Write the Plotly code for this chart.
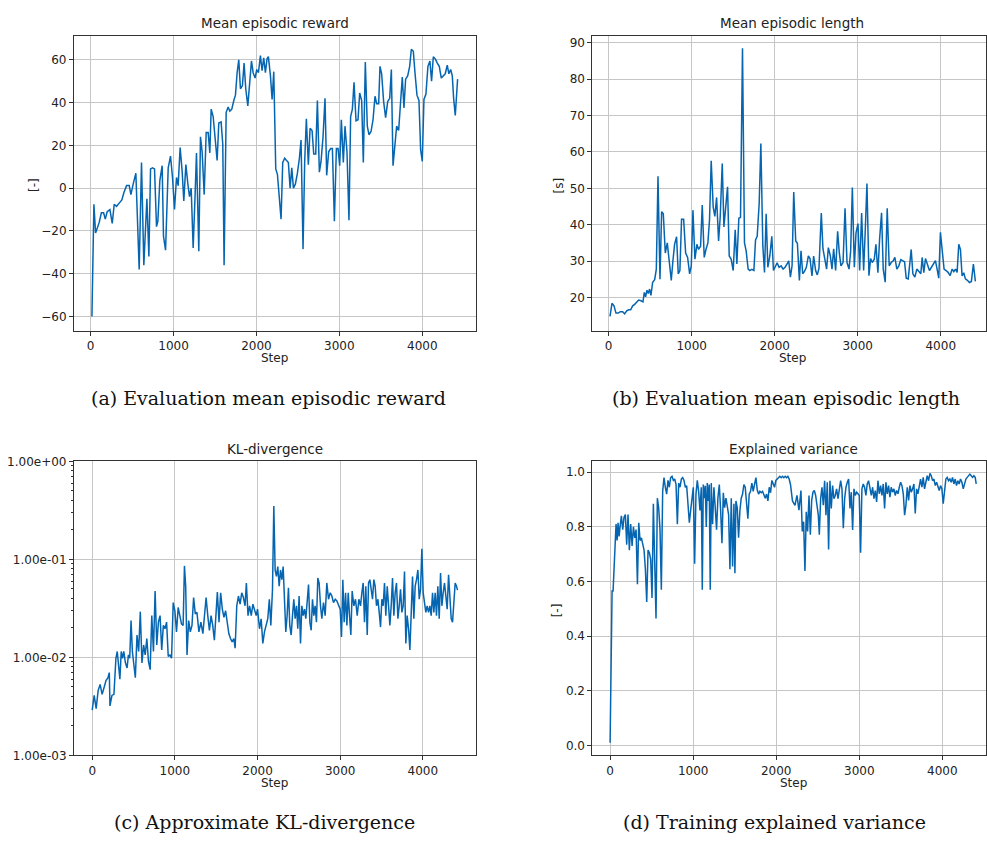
import plotly.graph_objects as go

# ---------------- data ----------------
reward_steps = [
    16, 40, 60, 80, 104, 130, 157, 177, 200, 233,
    261, 285, 313, 345, 377, 402, 434, 466, 486, 514,
    546, 586, 614, 642, 679, 703, 723, 747, 771, 795,
    811, 835, 863, 879, 904, 936, 964, 988, 1012, 1036,
    1056, 1080, 1104, 1124, 1149, 1173, 1193, 1213, 1237, 1261,
    1277, 1305, 1325, 1345, 1370, 1394, 1418, 1438, 1454, 1478,
    1502, 1526, 1546, 1574, 1594, 1610, 1635, 1659, 1679, 1703,
    1727, 1747, 1767, 1787, 1807, 1831, 1851, 1871, 1896, 1920,
    1940, 1960, 1984, 2004, 2024, 2048, 2068, 2088, 2108, 2128,
    2144, 2169, 2189, 2209, 2233, 2253, 2273, 2297, 2317, 2341,
    2361, 2385, 2406, 2426, 2446, 2470, 2494, 2518, 2538, 2562,
    2582, 2602, 2626, 2647, 2671, 2691, 2715, 2735, 2759, 2779,
    2803, 2827, 2847, 2871, 2895, 2916, 2940, 2964, 2984, 3004,
    3024, 3048, 3068, 3092, 3116, 3136, 3157, 3177, 3201, 3225,
    3245, 3269, 3289, 3313, 3337, 3357, 3382, 3406, 3430, 3450,
    3474, 3490, 3510, 3534, 3558, 3583, 3607, 3627, 3647, 3671,
    3691, 3715, 3739, 3759, 3779, 3799, 3824, 3848, 3868, 3892,
    3912, 3936, 3960, 3980, 4000, 4020, 4044, 4068, 4092, 4112,
    4133, 4157, 4181, 4205, 4229, 4253, 4277, 4301, 4321, 4342,
    4362, 4378, 4398, 4426,
]
reward_vals = [
    -60, -7.5, -21, -19, -16, -11.5, -11.5, -14.5, -11, -10,
    -16.5, -7.5, -8.5, -7, -5.5, -2, 1.2, 1.2, -3, 2,
    7, -38, 12, -36, -5, -32, 9, 9.5, 9, -18,
    -15.5, 3.5, 10.5, -22.5, -29, 9.5, 15, 5, -10, 5,
    1.2, 19, 8, -6, 11, 2, -4, 0, -28, -2.5,
    16.5, -29.5, 24, 17, -3, 26, 26, 16.5, 37, 33.5,
    22.5, 13, 30.5, 31, 20.5, -36, 35.5, 38, 36, 37,
    41, 43.5, 54, 60, 46.5, 48, 58.5, 46.5, 38.5, 49.5,
    59.5, 54, 51.5, 55.5, 54, 62, 55, 61, 54, 60.5,
    61.5, 52.5, 41.5, 54.5, 9, 6.5, -2.5, -14.5, 12, 14,
    13, 12, 0, 9.5, 0, 2, 7, 14, 22.5, -28.5,
    12.5, 32.5, 11, 28, 27, 16, 16, 41, 7.5, 12.5,
    24, 42, 6, 17, 18.5, 18.5, -15.5, 18.5, 18.5, 10.5,
    32, 12, 29, 17, -15, 33.5, 37, 49.5, 31.5, 32,
    44.5, 41, 12, 59, 29, 25, 26.5, 32, 43, 39.5,
    39.5, 57, 53.5, 40.5, 33, 40.5, 42, 55.5, 10.5, 22,
    29, 27, 39, 52, 37.5, 51, 52.5, 57, 65, 64,
    54, 43.5, 41, 18, 12.5, 41.5, 44, 57, 59.5, 50,
    61.5, 60.5, 58.5, 57, 51.5, 52.5, 53.5, 57.5, 53.5, 55.5,
    52.5, 42, 34, 51,
]

length_steps = [
    16, 40, 64, 88, 116, 140, 168, 193, 217, 241,
    265, 289, 313, 337, 361, 389, 413, 429, 445, 461,
    477, 493, 509, 530, 554, 574, 594, 618, 638, 658,
    682, 706, 730, 754, 774, 794, 818, 838, 858, 878,
    903, 927, 951, 975, 995, 1015, 1039, 1063, 1083, 1107,
    1127, 1151, 1171, 1195, 1215, 1235, 1259, 1279, 1300, 1324,
    1344, 1368, 1388, 1408, 1432, 1452, 1476, 1500, 1524, 1544,
    1568, 1588, 1612, 1636, 1656, 1680, 1700, 1725, 1749, 1769,
    1789, 1813, 1833, 1857, 1877, 1897, 1917, 1941, 1965, 1985,
    2009, 2029, 2053, 2077, 2101, 2125, 2149, 2169, 2189, 2209,
    2229, 2253, 2273, 2297, 2317, 2337, 2357, 2381, 2405, 2425,
    2449, 2469, 2493, 2513, 2533, 2561, 2581, 2605, 2625, 2646,
    2670, 2690, 2710, 2734, 2758, 2778, 2798, 2823, 2847, 2871,
    2895, 2915, 2935, 2959, 2979, 3003, 3023, 3047, 3071, 3091,
    3111, 3135, 3155, 3175, 3199, 3219, 3243, 3263, 3287, 3307,
    3331, 3355, 3379, 3403, 3427, 3447, 3471, 3495, 3519, 3539,
    3564, 3584, 3608, 3624, 3644, 3664, 3688, 3712, 3736, 3760,
    3776, 3796, 3816, 3840, 3864, 3888, 3912, 3936, 3956, 3976,
    3996, 4016, 4040, 4064, 4088, 4113, 4137, 4157, 4177, 4197,
    4217, 4237, 4257, 4277, 4297, 4321, 4345, 4369, 4393, 4417,
]
length_vals = [
    14.8, 18.4, 17.7, 15.7, 15.7, 16.1, 16.1, 15.5, 16.3, 16.6,
    16.6, 17.7, 18.1, 18.6, 19.3, 19.1, 18.8, 21.4, 20.2, 22.0,
    21.1, 22.3, 20.6, 24.2, 24.9, 27.8, 53.3, 25.0, 43.6, 43.0,
    32.2, 35.0, 29.6, 24.7, 30.1, 34.6, 36.7, 26.5, 27.4, 41.5,
    41.5, 32.2, 31.0, 26.5, 28.7, 44.0, 30.5, 34.6, 33.2, 34.1,
    45.4, 31.0, 33.1, 35.0, 41.4, 57.6, 44.8, 42.3, 47.5, 35.5,
    42.3, 56.8, 39.4, 45.0, 50.4, 31.4, 30.5, 27.4, 38.6, 29.2,
    41.8, 42.0, 88.5, 35.0, 32.8, 27.8, 27.4, 27.7, 27.4, 35.8,
    36.8, 45.9, 62.3, 34.1, 26.9, 43.0, 28.3, 31.4, 36.8, 27.4,
    28.7, 29.5, 28.3, 28.7, 27.8, 28.3, 29.2, 30.1, 25.6, 28.7,
    49.0, 35.5, 34.9, 24.7, 32.8, 26.5, 27.1, 28.3, 31.4, 30.7,
    25.9, 31.4, 27.4, 26.2, 28.0, 43.2, 33.4, 29.6, 27.8, 33.7,
    31.4, 27.8, 33.4, 27.4, 38.2, 32.3, 28.7, 29.6, 44.5, 29.6,
    27.8, 32.8, 50.2, 28.3, 37.7, 40.3, 27.4, 43.2, 27.4, 38.6,
    51.3, 26.0, 30.7, 29.6, 30.5, 34.6, 26.8, 35.9, 43.3, 27.8,
    24.2, 44.5, 28.7, 29.6, 30.1, 31.0, 27.8, 28.7, 30.4, 30.1,
    29.8, 25.3, 25.1, 28.7, 33.2, 26.5, 25.6, 27.8, 27.1, 26.5,
    31.0, 26.8, 30.7, 29.2, 27.4, 28.3, 29.2, 30.1, 27.8, 25.3,
    37.9, 32.3, 27.8, 27.4, 26.9, 26.0, 27.8, 27.1, 27.8, 26.9,
    34.6, 33.2, 25.9, 26.8, 25.1, 24.7, 24.1, 24.4, 29.2, 24.4,
]

kl_steps = [
    0, 12, 24, 48, 72, 96, 120, 143, 167, 191,
    207, 215, 239, 263, 287, 303, 319, 335, 351, 367,
    382, 402, 422, 438, 454, 470, 486, 502, 522, 542,
    562, 582, 602, 622, 641, 661, 681, 701, 721, 741,
    761, 781, 801, 821, 841, 861, 881, 900, 920, 940,
    960, 980, 1000, 1020, 1040, 1060, 1080, 1100, 1116, 1131,
    1147, 1167, 1187, 1207, 1227, 1247, 1267, 1291, 1315, 1339,
    1363, 1378, 1398, 1418, 1438, 1458, 1478, 1498, 1514, 1534,
    1554, 1574, 1594, 1614, 1633, 1653, 1673, 1693, 1713, 1729,
    1749, 1769, 1789, 1809, 1829, 1849, 1865, 1885, 1904, 1924,
    1944, 1964, 1984, 2000, 2024, 2044, 2064, 2084, 2104, 2124,
    2143, 2161, 2181, 2197, 2213, 2229, 2245, 2262, 2278, 2294,
    2310, 2326, 2342, 2358, 2374, 2390, 2407, 2423, 2439, 2455,
    2471, 2487, 2503, 2520, 2536, 2552, 2568, 2584, 2600, 2617,
    2633, 2649, 2665, 2681, 2697, 2713, 2729, 2745, 2762, 2778,
    2798, 2818, 2838, 2859, 2879, 2899, 2919, 2940, 2960, 2980,
    3000, 3016, 3032, 3048, 3065, 3081, 3097, 3113, 3129, 3145,
    3165, 3185, 3206, 3226, 3246, 3262, 3278, 3294, 3310, 3327,
    3343, 3359, 3375, 3391, 3407, 3423, 3439, 3456, 3472, 3488,
    3504, 3520, 3536, 3552, 3569, 3585, 3601, 3617, 3633, 3649,
    3665, 3681, 3698, 3714, 3730, 3746, 3762, 3778, 3794, 3810,
    3827, 3843, 3859, 3875, 3891, 3907, 3923, 3940, 3956, 3972,
    3988, 4004, 4020, 4036, 4052, 4069, 4085, 4101, 4117, 4133,
    4149, 4165, 4181, 4198, 4214, 4230, 4246, 4262, 4278, 4294,
    4311, 4327, 4343, 4359, 4375, 4391, 4407, 4419,
]
kl_vals = [
    0.0029, 0.0037, 0.0041, 0.0030, 0.0046, 0.0053, 0.0042, 0.0049, 0.0058, 0.0062,
    0.0070, 0.0032, 0.0041, 0.0042, 0.0098, 0.0115, 0.0078, 0.0060, 0.0115, 0.0098,
    0.0115, 0.0088, 0.0078, 0.0106, 0.0098, 0.0238, 0.0115, 0.0091, 0.0062, 0.0169,
    0.0115, 0.0293, 0.0088, 0.0134, 0.0106, 0.0156, 0.0091, 0.0075, 0.0267, 0.0115,
    0.0475, 0.0134, 0.0229, 0.0267, 0.0119, 0.0212, 0.0196, 0.0229, 0.0102, 0.0106,
    0.0098, 0.0363, 0.0299, 0.0182, 0.0323, 0.0267, 0.0220, 0.0212, 0.0858, 0.0533,
    0.0106, 0.0238, 0.0182, 0.0212, 0.0408, 0.0278, 0.0288, 0.0182, 0.0229, 0.0175,
    0.0336, 0.0408, 0.0267, 0.0189, 0.0267, 0.0212, 0.0150, 0.0267, 0.0464, 0.0229,
    0.0457, 0.0311, 0.0257, 0.0299, 0.0229, 0.0175, 0.0156, 0.0144, 0.0156, 0.0124,
    0.0336, 0.0423, 0.0349, 0.0457, 0.0408, 0.0336, 0.0575, 0.0267, 0.0336, 0.0267,
    0.0349, 0.0311, 0.0267, 0.0311, 0.0196, 0.0248, 0.0139, 0.0182, 0.0212, 0.0248,
    0.0392, 0.0212, 0.0494, 0.3500, 0.0780, 0.0670, 0.0845, 0.0533, 0.0780, 0.0621,
    0.0845, 0.0336, 0.0182, 0.0267, 0.0513, 0.0212, 0.0169, 0.0267, 0.0392, 0.0248,
    0.0336, 0.0196, 0.0423, 0.0139, 0.0336, 0.0267, 0.0311, 0.0248, 0.0392, 0.0553,
    0.0229, 0.0189, 0.0392, 0.0267, 0.0336, 0.0229, 0.0645, 0.0575, 0.0336, 0.0248,
    0.0363, 0.0267, 0.0575, 0.0392, 0.0457, 0.0423, 0.0363, 0.0392, 0.0377, 0.0336,
    0.0311, 0.0162, 0.0621, 0.0229, 0.0457, 0.0212, 0.0457, 0.0267, 0.0169, 0.0475,
    0.0336, 0.0392, 0.0267, 0.0392, 0.0336, 0.0457, 0.0575, 0.0229, 0.0533, 0.0169,
    0.0575, 0.0621, 0.0457, 0.0392, 0.0621, 0.0533, 0.0336, 0.0392, 0.0288, 0.0204,
    0.0392, 0.0336, 0.0575, 0.0267, 0.0533, 0.0288, 0.0212, 0.0336, 0.0645, 0.0267,
    0.0457, 0.0575, 0.0248, 0.0336, 0.0494, 0.0288, 0.0336, 0.0753, 0.0139, 0.0267,
    0.0196, 0.0119, 0.0267, 0.0670, 0.0248, 0.0533, 0.0621, 0.0780, 0.0392, 0.0494,
    0.1280, 0.0457, 0.0363, 0.0288, 0.0336, 0.0288, 0.0336, 0.0267, 0.0457, 0.0288,
    0.0457, 0.0267, 0.0533, 0.0248, 0.0724, 0.0336, 0.0457, 0.0575, 0.0423, 0.0311,
    0.0697, 0.0392, 0.0248, 0.0229, 0.0392, 0.0575, 0.0533, 0.0486,
]

ev_steps = [
    0, 12, 24, 36, 48, 60, 72, 84, 96, 108,
    120, 136, 152, 168, 184, 200, 216, 232, 248, 265,
    281, 297, 313, 329, 345, 361, 377, 393, 409, 425,
    441, 457, 473, 489, 505, 521, 537, 553, 569, 585,
    601, 617, 633, 649, 665, 681, 697, 713, 729, 746,
    762, 778, 794, 810, 826, 842, 858, 874, 890, 906,
    922, 938, 954, 970, 986, 1002, 1018, 1034, 1050, 1066,
    1082, 1098, 1110, 1122, 1134, 1146, 1158, 1170, 1182, 1194,
    1206, 1218, 1234, 1250, 1266, 1282, 1298, 1315, 1331, 1347,
    1363, 1379, 1395, 1411, 1427, 1443, 1459, 1475, 1491, 1503,
    1515, 1531, 1547, 1563, 1579, 1595, 1611, 1627, 1643, 1659,
    1675, 1691, 1707, 1723, 1739, 1756, 1772, 1788, 1804, 1820,
    1836, 1852, 1868, 1884, 1900, 1916, 1932, 1948, 1964, 1980,
    1996, 2012, 2028, 2044, 2060, 2076, 2092, 2108, 2124, 2140,
    2156, 2172, 2196, 2226, 2250, 2274, 2298, 2314, 2330, 2346,
    2362, 2378, 2395, 2411, 2427, 2443, 2459, 2475, 2491, 2507,
    2519, 2535, 2551, 2567, 2583, 2599, 2615, 2631, 2647, 2663,
    2679, 2695, 2711, 2727, 2744, 2760, 2776, 2792, 2808, 2824,
    2840, 2856, 2872, 2888, 2904, 2920, 2936, 2952, 2968, 2984,
    3000, 3016, 3032, 3048, 3064, 3080, 3096, 3112, 3128, 3145,
    3161, 3177, 3193, 3209, 3225, 3241, 3257, 3273, 3289, 3305,
    3321, 3337, 3353, 3369, 3385, 3401, 3417, 3433, 3449, 3466,
    3482, 3498, 3514, 3530, 3546, 3562, 3578, 3594, 3610, 3626,
    3642, 3658, 3674, 3690, 3706, 3722, 3738, 3754, 3770, 3786,
    3802, 3818, 3835, 3851, 3867, 3883, 3899, 3915, 3931, 3947,
    3963, 3979, 3995, 4011, 4027, 4043, 4059, 4075, 4091, 4107,
    4123, 4139, 4155, 4171, 4187, 4203, 4219, 4236, 4252, 4268,
    4284, 4300, 4316, 4332, 4348, 4364, 4380, 4396, 4408,
]
ev_vals = [
    0.010, 0.265, 0.565, 0.565, 0.690, 0.730, 0.810, 0.750, 0.815, 0.765,
    0.800, 0.840, 0.790, 0.835, 0.845, 0.735, 0.845, 0.715, 0.810, 0.730,
    0.800, 0.760, 0.790, 0.590, 0.815, 0.750, 0.760, 0.730, 0.715, 0.645,
    0.525, 0.715, 0.705, 0.680, 0.540, 0.885, 0.655, 0.465, 0.905, 0.870,
    0.790, 0.570, 0.930, 0.980, 0.945, 0.920, 0.970, 0.945, 0.980, 0.985,
    0.970, 0.975, 0.955, 0.810, 0.960, 0.945, 0.975, 0.980, 0.970, 0.945,
    0.950, 0.895, 0.815, 0.860, 0.905, 0.945, 0.665, 0.920, 0.970, 0.930,
    0.860, 0.945, 0.570, 0.955, 0.905, 0.950, 0.800, 0.960, 0.895, 0.955,
    0.570, 0.960, 0.810, 0.945, 0.870, 0.790, 0.905, 0.955, 0.860, 0.740,
    0.925, 0.870, 0.905, 0.870, 0.845, 0.645, 0.905, 0.655, 0.885, 0.630,
    0.895, 0.870, 0.760, 0.860, 0.905, 0.920, 0.955, 0.945, 0.895, 0.830,
    0.920, 0.930, 0.960, 0.930, 0.955, 0.980, 0.935, 0.920, 0.930, 0.925,
    0.930, 0.920, 0.905, 0.920, 0.895, 0.945, 0.925, 0.970, 0.960, 0.945,
    0.970, 0.975, 0.980, 0.985, 0.980, 0.985, 0.980, 0.985, 0.980, 0.985,
    0.975, 0.955, 0.895, 0.879, 0.915, 0.861, 0.933, 0.783, 0.819, 0.639,
    0.855, 0.783, 0.915, 0.771, 0.897, 0.927, 0.933, 0.915, 0.879, 0.843,
    0.771, 0.903, 0.945, 0.879, 0.969, 0.843, 0.963, 0.717, 0.969, 0.867,
    0.951, 0.903, 0.915, 0.939, 0.903, 0.939, 0.969, 0.939, 0.795, 0.903,
    0.945, 0.963, 0.975, 0.867, 0.927, 0.789, 0.939, 0.915, 0.927, 0.921,
    0.915, 0.705, 0.939, 0.957, 0.945, 0.915, 0.957, 0.969, 0.933, 0.915,
    0.945, 0.903, 0.933, 0.891, 0.969, 0.921, 0.951, 0.915, 0.957, 0.867,
    0.963, 0.921, 0.951, 0.909, 0.945, 0.927, 0.939, 0.915, 0.933, 0.921,
    0.945, 0.963, 0.951, 0.921, 0.843, 0.879, 0.945, 0.897, 0.951, 0.927,
    0.939, 0.957, 0.849, 0.939, 0.921, 0.945, 0.975, 0.945, 0.981, 0.939,
    0.963, 0.987, 0.969, 0.996, 0.987, 0.969, 0.975, 0.951, 0.963, 0.945,
    0.933, 0.951, 0.939, 0.885, 0.945, 0.975, 0.981, 0.969, 0.975, 0.963,
    0.981, 0.957, 0.975, 0.951, 0.969, 0.957, 0.975, 0.963, 0.939, 0.963,
    0.975, 0.981, 0.987, 0.993, 0.987, 0.981, 0.987, 0.981, 0.957,
]

step_ticks = [0, 1000, 2000, 3000, 4000]
reward_ticks = [-60, -40, -20, 0, 20, 40, 60]
length_ticks = [20, 30, 40, 50, 60, 70, 80, 90]
kl_ticks = [0.001, 0.01, 0.1, 1.0]
kl_ticktext = ["1.00e-03", "1.00e-02", "1.00e-01", "1.00e+00"]
kl_minor_ticks = [
    0.002, 0.003, 0.004, 0.005, 0.006, 0.007, 0.008, 0.009,
    0.02, 0.03, 0.04, 0.05, 0.06, 0.07, 0.08, 0.09,
    0.2, 0.3, 0.4, 0.5, 0.6, 0.7, 0.8, 0.9,
]
ev_ticks = [0.0, 0.2, 0.4, 0.6, 0.8, 1.0]

titles = ["Mean episodic reward", "Mean episodic length", "KL-divergence", "Explained variance"]
captions = ["(a) Evaluation mean episodic reward", "(b) Evaluation mean episodic length",
            "(c) Approximate KL-divergence", "(d) Training explained variance"]

# ---------------- layout helpers ----------------
W, H = 987, 848
def px(x):
    return x / W
def py(y):
    return 1 - y / H

LINE = "#0565b0"
FONT = "DejaVu Sans"
TXT = "#222222"

fig = go.Figure()
fig.add_trace(go.Scatter(x=reward_steps, y=reward_vals, mode="lines",
                         line=dict(color=LINE, width=1.5), xaxis="x", yaxis="y"))
fig.add_trace(go.Scatter(x=length_steps, y=length_vals, mode="lines",
                         line=dict(color=LINE, width=1.5), xaxis="x2", yaxis="y2"))
fig.add_trace(go.Scatter(x=kl_steps, y=kl_vals, mode="lines",
                         line=dict(color=LINE, width=1.5), xaxis="x3", yaxis="y3"))
fig.add_trace(go.Scatter(x=ev_steps, y=ev_vals, mode="lines",
                         line=dict(color=LINE, width=1.5), xaxis="x4", yaxis="y4"))

def ax(**kw):
    d = dict(showline=True, linecolor="#333333", linewidth=1, mirror=True,
             ticks="outside", ticklen=4, tickwidth=1, tickcolor="#333333",
             showgrid=True, gridcolor="#c6c6c6", gridwidth=1, zeroline=False,
             tickfont=dict(family=FONT, size=12, color=TXT))
    d.update(kw)
    return d

top_dom = [py(329), py(29)]
bot_dom = [py(761), py(462)]
left_dom = [px(74), px(476)]
right_dom = [px(593), 1.0]

fig.update_layout(
    width=W, height=H, margin=dict(l=0, r=0, t=0, b=0),
    paper_bgcolor="white", plot_bgcolor="white", showlegend=False,
    xaxis=ax(domain=left_dom, range=[-201, 4642], tickvals=step_ticks, anchor="y"),
    yaxis=ax(domain=top_dom, range=[-66.6, 71.4], tickvals=reward_ticks, anchor="x"),
    xaxis2=ax(domain=right_dom, range=[-196, 4545], tickvals=step_ticks, anchor="y2"),
    yaxis2=ax(domain=top_dom, range=[10.9, 92], tickvals=length_ticks, anchor="x2"),
    xaxis3=ax(domain=left_dom, range=[-221, 4637], tickvals=step_ticks, anchor="y3"),
    yaxis3=ax(domain=bot_dom, type="log", range=[-3, 0], tickvals=kl_ticks,
              ticktext=kl_ticktext, anchor="x3",
              minor=dict(tickvals=kl_minor_ticks, ticks="outside", ticklen=2,
                         tickwidth=0.8, tickcolor="#333333", showgrid=False)),
    xaxis4=ax(domain=right_dom, range=[-213, 4526], tickvals=step_ticks, anchor="y4"),
    yaxis4=ax(domain=bot_dom, range=[-0.036, 1.0396], tickvals=ev_ticks,
              tickformat=".1f", anchor="x4"),
)

def label(text, x, y, size=12, family=FONT, angle=0, color=TXT):
    fig.add_annotation(text=text, x=px(x), y=py(y), xref="paper", yref="paper",
                       showarrow=False, xanchor="center", yanchor="middle",
                       textangle=angle, font=dict(family=family, size=size, color=color))

# subplot titles
label(titles[0], 275, 16, size=13.5)
label(titles[1], 793, 16, size=13.5)
label(titles[2], 275, 449, size=13.5)
label(titles[3], 794, 449, size=13.5)
# x-axis labels
label("Step", 275, 357)
label("Step", 793, 357)
label("Step", 275, 789)
label("Step", 794, 789)
# y-axis labels
label("[-]", 34, 181, angle=-90)
label("[s]", 560, 181, angle=-90)
label("[-]", 557, 613, angle=-90)
# captions
label(captions[0], 269, 398, size=19, family="DejaVu Serif", color="#111111")
label(captions[1], 787, 398, size=19, family="DejaVu Serif", color="#111111")
label(captions[2], 265, 829, size=19, family="DejaVu Serif", color="#111111")
label(captions[3], 775, 829, size=19, family="DejaVu Serif", color="#111111")

fig.write_html("out.html")
